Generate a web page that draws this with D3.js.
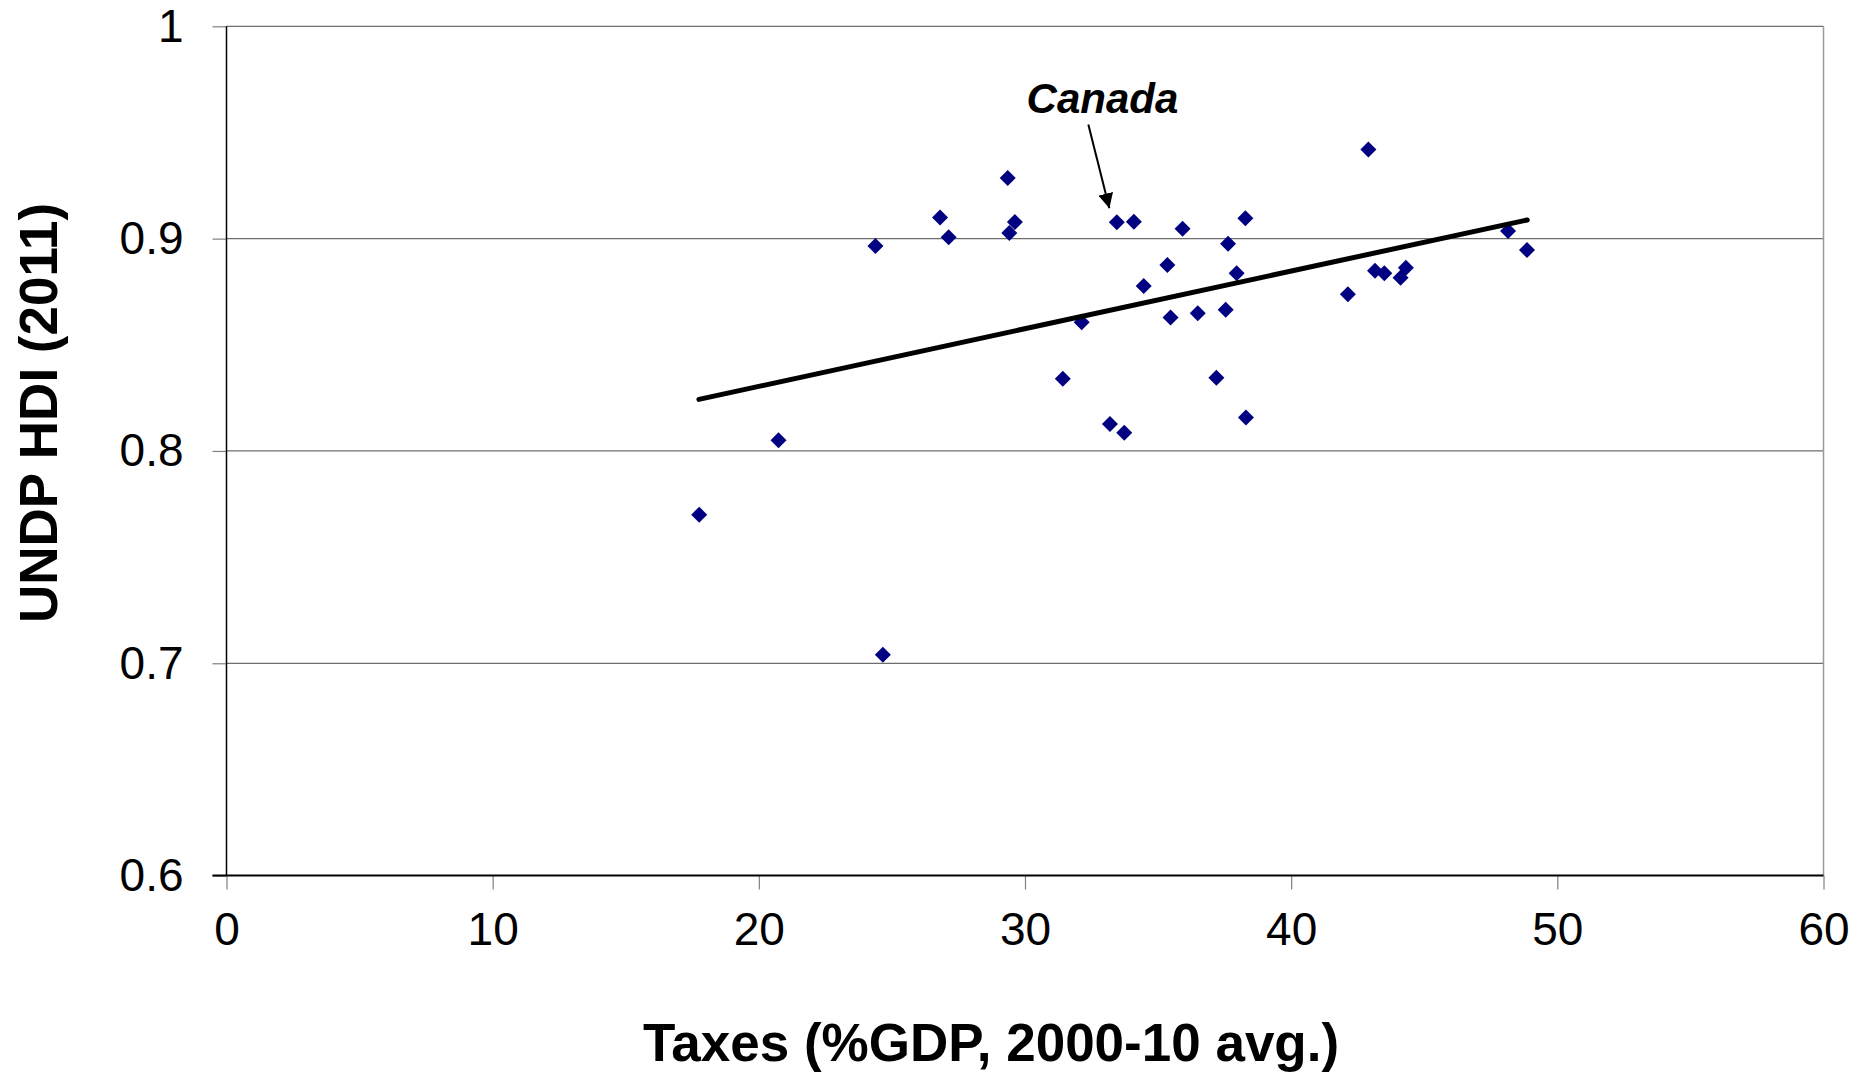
<!DOCTYPE html>
<html>
<head>
<meta charset="utf-8">
<script src="https://cdn.jsdelivr.net/npm/d3@7"></script>
<style>
html,body{margin:0;padding:0;background:#fff;}
svg{display:block;font-family:"Liberation Sans",Arial,sans-serif;}
</style>
</head>
<body>
<svg id="chart" width="1873" height="1074"></svg>
<script>
// Data
const taxes = [17.76,20.74,24.38,24.66,26.81,27.13,29.35,29.41,29.62,31.42,32.13,33.19,33.45,33.73,34.09,34.46,35.35,35.47,35.92,36.49,37.19,37.54,37.63,37.95,38.28,38.30,42.13,42.90,43.15,43.50,44.11,44.31,48.15,48.86];
const hdi   = [0.770,0.805,0.8965,0.704,0.910,0.9006,0.9286,0.9027,0.9078,0.834,0.8606,0.8127,0.9077,0.8086,0.908,0.8777,0.8876,0.8628,0.9047,0.8648,0.8345,0.8665,0.8976,0.8837,0.9096,0.8158,0.8738,0.942,0.8849,0.8837,0.8816,0.8863,0.9036,0.8946];
const trendX = [17.75, 48.87];
const trendY = [0.8243, 0.9088];
const xTicks = [0,10,20,30,40,50,60];
const xTickLabels = ["0","10","20","30","40","50","60"];
const yTicks = [0.6,0.7,0.8,0.9,1];
const yTickLabels = ["0.6","0.7","0.8","0.9","1"];
const xTitle = "Taxes (%GDP, 2000-10 avg.)";
const yTitle = "UNDP HDI (2011)";
const annotation = {label:"Canada", labelX:32.91, labelY:0.959, fromX:32.38, fromY:0.9538, toX:33.17, toY:0.9143};

const W = 1873, H = 1074;
const margin = {left:226.5, right:49.5, top:26.3, bottom:198.4};
const svg = d3.select("#chart");
const x = d3.scaleLinear().domain([0,60]).range([margin.left, W - margin.right]);
const y = d3.scaleLinear().domain([0.6,1]).range([H - margin.bottom, margin.top]);

// gridlines
svg.append("g").selectAll("line").data(yTicks.filter(d => d > 0.6)).join("line")
  .attr("x1", x(0)).attr("x2", x(60))
  .attr("y1", d => y(d)).attr("y2", d => y(d))
  .attr("stroke", "#6e6e6e").attr("stroke-width", 1.2);

// right border
svg.append("line").attr("x1", x(60)).attr("x2", x(60)).attr("y1", y(1)).attr("y2", y(0.6))
  .attr("stroke", "#9a9a9a").attr("stroke-width", 1.5);

// Y axis
const yAxis = d3.axisLeft(y).tickValues(yTicks).tickFormat((d,i) => yTickLabels[i]).tickSize(14).tickPadding(29);
const gy = svg.append("g").attr("transform", `translate(${x(0)},0)`).call(yAxis);
gy.select(".domain").remove();
gy.selectAll(".tick line").attr("stroke", "#808080").attr("stroke-width", 1.2);
gy.selectAll(".tick text").attr("font-size", 46).attr("fill", "#000")
  .attr("font-family", "'Liberation Sans', Arial, sans-serif");
svg.append("line").attr("x1", x(0)).attr("x2", x(0)).attr("y1", y(1)).attr("y2", y(0.6))
  .attr("stroke", "#000").attr("stroke-width", 1.5);

// X axis
const xAxis = d3.axisBottom(x).tickValues(xTicks).tickFormat((d,i) => xTickLabels[i]).tickSize(14).tickPadding(23);
const gx = svg.append("g").attr("transform", `translate(0,${y(0.6)})`).call(xAxis);
gx.select(".domain").remove();
gx.selectAll(".tick line").attr("stroke", "#808080").attr("stroke-width", 1.2);
gx.selectAll(".tick text").attr("font-size", 46).attr("fill", "#000")
  .attr("font-family", "'Liberation Sans', Arial, sans-serif");
svg.append("line").attr("x1", x(0) - 14).attr("x2", x(60)).attr("y1", y(0.6)).attr("y2", y(0.6))
  .attr("stroke", "#000").attr("stroke-width", 2);

// points (diamonds)
const pts = taxes.map((t,i) => ({x:t, y:hdi[i]}));
svg.append("g").selectAll("path").data(pts).join("path")
  .attr("d", d3.symbol().type(d3.symbolSquare).size(128))
  .attr("transform", d => `translate(${x(d.x)},${y(d.y)}) rotate(45)`)
  .attr("fill", "#000080");

// trend line
const line = d3.line().x(d => x(d[0])).y(d => y(d[1]));
svg.append("path").datum(trendX.map((v,i) => [v, trendY[i]]))
  .attr("d", line).attr("stroke", "#000").attr("stroke-width", 5)
  .attr("stroke-linecap", "round").attr("fill", "none");

// annotation
svg.append("defs").append("marker").attr("id","arr").attr("viewBox","0 0 10 10")
  .attr("refX",10).attr("refY",5).attr("markerWidth",15).attr("markerHeight",15)
  .attr("markerUnits","userSpaceOnUse").attr("orient","auto")
  .append("path").attr("d","M0,0 L10,5 L0,10 z").attr("fill","#000");
svg.append("line")
  .attr("x1", x(annotation.fromX)).attr("y1", y(annotation.fromY))
  .attr("x2", x(annotation.toX)).attr("y2", y(annotation.toY))
  .attr("stroke", "#000").attr("stroke-width", 2).attr("marker-end", "url(#arr)");
svg.append("text").attr("x", x(annotation.labelX)).attr("y", y(annotation.labelY))
  .attr("text-anchor", "middle").attr("font-size", 42).attr("font-weight", "bold")
  .attr("font-style", "italic").text(annotation.label);

// axis titles
svg.append("text").attr("x", 991).attr("y", 1061).attr("text-anchor", "middle")
  .attr("font-size", 53).attr("font-weight", "bold").text(xTitle);
svg.append("text").attr("transform", "translate(57,413) rotate(-90)").attr("text-anchor", "middle")
  .attr("font-size", 53).attr("font-weight", "bold").text(yTitle);
</script>
</body>
</html>
